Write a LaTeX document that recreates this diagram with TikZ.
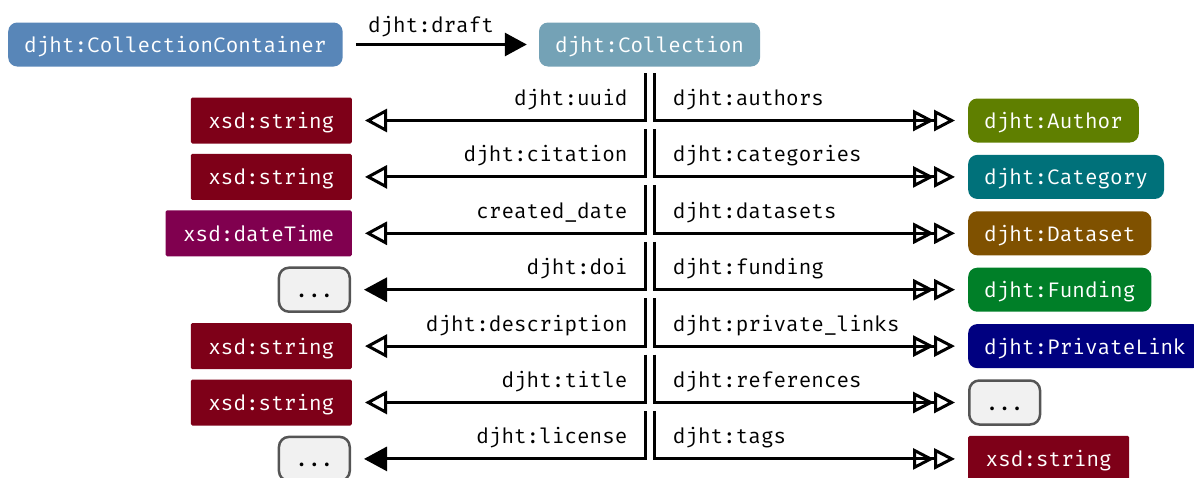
\documentclass[tikz,border=0pt]{standalone}
\usepackage{fontspec}
\setmonofont{Fira Mono}
\usetikzlibrary{arrows.meta}

\definecolor{cContainer}{HTML}{5886B8}
\definecolor{cCollection}{HTML}{74A2B6}
\definecolor{cString}{HTML}{7E0018}
\definecolor{cDateTime}{HTML}{80004F}
\definecolor{cAuthor}{HTML}{5F7F00}
\definecolor{cCategory}{HTML}{00717A}
\definecolor{cDataset}{HTML}{7F5100}
\definecolor{cFunding}{HTML}{007F28}
\definecolor{cPrivLink}{HTML}{000080}
\definecolor{moreFill}{HTML}{F1F1F1}
\definecolor{moreBorder}{HTML}{555555}

\tikzset{
  txt/.style={font=\ttfamily\fontsize{21}{21}\selectfont},
  boxbase/.style={txt, text=white, inner xsep=16pt, inner ysep=0pt,
    text height=16pt, text depth=0pt},
  cls/.style={boxbase, rounded corners=9pt, minimum height=44pt},
  lit/.style={boxbase, rounded corners=1.5pt, minimum height=46pt, inner xsep=17.5pt},
  more/.style={boxbase, text=black, fill=moreFill, draw=moreBorder,
    line width=2.5pt, rounded corners=10pt, minimum height=44pt, inner xsep=16.5pt},
  lab/.style={txt, text=black, inner sep=0pt},
  rel/.style={line width=3pt, black},
  toOpen/.style={-{Triangle[open,length=22pt,width=23pt]}, shorten >=13pt},
  toFilled/.style={-{Triangle[length=23pt,width=24pt]}, shorten >=13pt},
  toDouble/.style={-{Triangle[open,length=21pt,width=21pt,sep=0pt]Triangle[open,length=21pt,width=21pt]}, shorten >=13pt},
}

\begin{document}
\begin{tikzpicture}[x=1pt,y=-1pt]
\useasboundingbox (0,0) rectangle (1194,477);

% top: container and collection
\node[cls, fill=cContainer, anchor=west] (cc) at (8,44.5) {djht:CollectionContainer};
\node[cls, fill=cCollection] (coll) at (649.5,44.5) {djht:Collection};
\draw[rel, -{Triangle[length=22pt,width=23pt]}, shorten <=13pt, shorten >=12pt]
  (cc) -- node[lab, pos=0.45, anchor=base, yshift=12.5pt] {djht:draft} (coll);

% range nodes on the left
\node[lit, fill=cString, anchor=east]   (L1) at (352,120.5) {xsd:string};
\node[lit, fill=cString, anchor=east]   (L2) at (352,176.9) {xsd:string};
\node[lit, fill=cDateTime, anchor=east] (L3) at (352,233.3) {xsd:dateTime};
\node[more, anchor=east]                (L4) at (351,289.7) {...};
\node[lit, fill=cString, anchor=east]   (L5) at (352,346.1) {xsd:string};
\node[lit, fill=cString, anchor=east]   (L6) at (352,402.5) {xsd:string};
\node[more, anchor=east]                (L7) at (351,458.9) {...};

% range nodes on the right
\node[cls, fill=cAuthor, anchor=west]   (R1) at (968,120.5) {djht:Author};
\node[cls, fill=cCategory, anchor=west] (R2) at (968,176.9) {djht:Category};
\node[cls, fill=cDataset, anchor=west]  (R3) at (968,233.3) {djht:Dataset};
\node[cls, fill=cFunding, anchor=west]  (R4) at (968,289.7) {djht:Funding};
\node[cls, fill=cPrivLink, anchor=west] (R5) at (968,346.1) {djht:PrivateLink};
\node[more, anchor=west]                (R6) at (968,402.5) {...};
\node[lit, fill=cString, anchor=west]   (R7) at (968,458.9) {xsd:string};

% start points of the trunk segments
\foreach \i/\y in {1/73, 2/129, 3/185.4, 4/241.8, 5/298.2, 6/354.6, 7/411} {
  \coordinate (l\i) at (645,\y);
  \coordinate (r\i) at (654.3,\y);
}

% properties pointing left
\foreach \i/\tip/\name in {1/toOpen/{djht:uuid}, 2/toOpen/{djht:citation},
    3/toOpen/{created\_date}, 4/toFilled/{djht:doi}, 5/toOpen/{djht:description},
    6/toOpen/{djht:title}, 7/toFilled/{djht:license}} {
  \draw[rel, \tip] (l\i) |- node[lab, pos=0.5, anchor=base east, xshift=-16pt, yshift=15pt] {\name} (L\i);
}

% properties pointing right
\foreach \i/\name in {1/{djht:authors}, 2/{djht:categories}, 3/{djht:datasets},
    4/{djht:funding}, 5/{djht:private\_links}, 6/{djht:references}, 7/{djht:tags}} {
  \draw[rel, toDouble] (r\i) |- node[lab, pos=0.5, anchor=base west, xshift=17pt, yshift=15pt] {\name} (R\i);
}
\end{tikzpicture}
\end{document}
